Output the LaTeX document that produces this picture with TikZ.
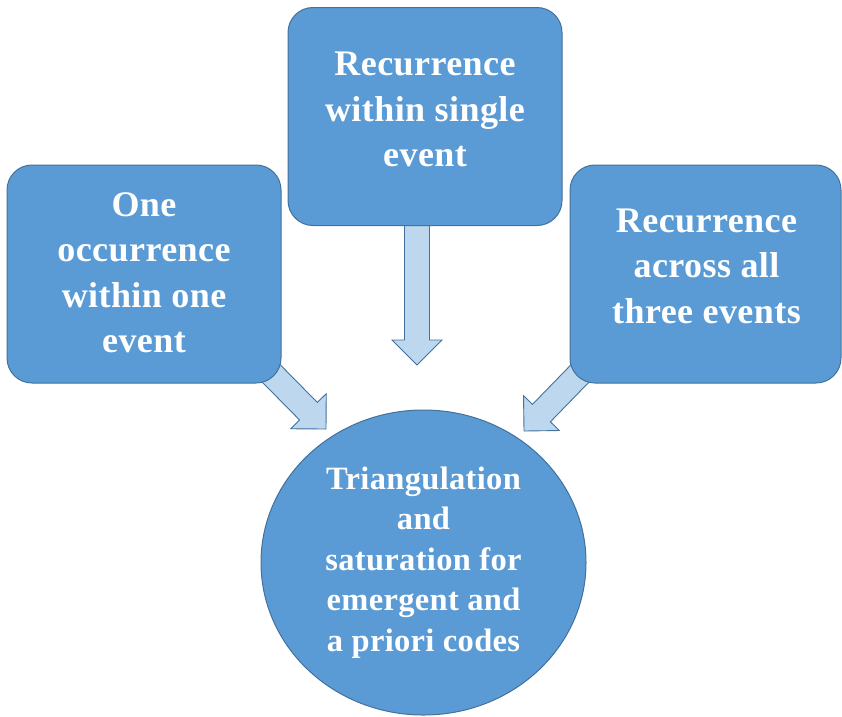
\documentclass[tikz,border=0pt]{standalone}
\usepackage{fontspec}
\setmainfont{Liberation Serif}
\usetikzlibrary{calc,shapes.geometric}
\definecolor{boxblue}{HTML}{5B9BD5}
\definecolor{edgeblue}{HTML}{41719C}
\definecolor{arrowfill}{HTML}{BDD7EE}
\tikzset{
  box/.style={draw=edgeblue, line width=1pt, fill=boxblue, rounded corners=25pt,
    inner sep=0pt, minimum width=274pt, minimum height=218pt},
  boxtext/.style={inner sep=0pt, align=center, text=white,
    font=\fontsize{36}{45.5}\selectfont\bfseries\addfontfeature{LetterSpace=1.2}},
  hub/.style={ellipse, draw=edgeblue, line width=1pt, fill=boxblue,
    inner sep=0pt, minimum width=325pt, minimum height=305pt, align=center,
    text=white, font=\fontsize{32.5}{40.5}\selectfont\bfseries\addfontfeature{LetterSpace=1}},
  blockarrowstyle/.style={draw=edgeblue, line width=0.9pt, fill=arrowfill, line join=miter}
}
\newcommand{\blockarr}[2]{%
  \path ($(#2)!25pt!(#1)$) coordinate (hb);
  \draw[blockarrowstyle]
    ($(#1)!12.5pt!90:(#2)$) -- ($(hb)!12.5pt!90:(#2)$) -- ($(hb)!25pt!90:(#2)$)
    -- (#2) -- ($(hb)!25pt!-90:(#2)$) -- ($(hb)!12.5pt!-90:(#2)$)
    -- ($(#1)!12.5pt!-90:(#2)$) -- cycle;}
\begin{document}
\begin{tikzpicture}[x=1pt,y=-1pt]
\useasboundingbox (0,0) rectangle (842,716);
% arrow end points
\coordinate (sL) at (256,358);
\coordinate (tL) at (326,429);
\coordinate (sT) at (417,200);
\coordinate (tT) at (417,365);
\coordinate (sR) at (595,358);
\coordinate (tR) at (524,431);
\blockarr{sL}{tL}
\blockarr{sT}{tT}
\blockarr{sR}{tR}
% boxes
\node[box] (left) at (144,274) {};
\node[boxtext] (lefttext) at ($(left.center)+(0,-1.5)$) {One\\occurrence\\within one\\event};
\node[box] (top) at (425,116.5) {};
\node[boxtext] (toptext) at ($(top.center)+(0,-7)$) {Recurrence\\within single\\event};
\node[box, minimum width=271pt] (right) at (705.5,274) {};
\node[boxtext] (righttext) at ($(right.center)+(1,-8)$) {Recurrence\\across all\\three events};
\node[hub] (hub) at (423.5,562.5) {Triangulation\\and\\saturation for\\emergent and\\a priori codes};
\end{tikzpicture}
\end{document}
